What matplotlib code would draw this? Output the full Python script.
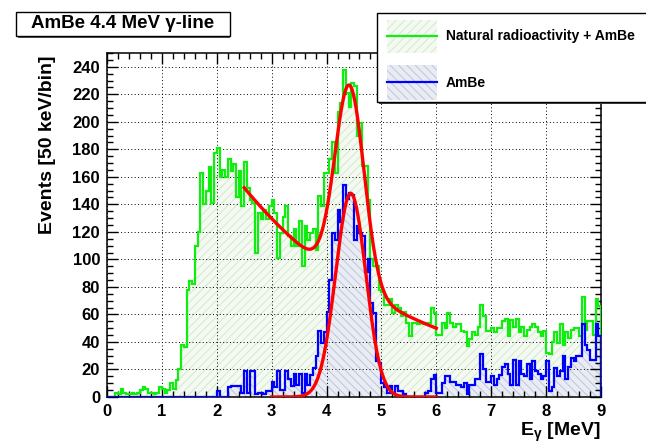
import numpy as np
import matplotlib.pyplot as plt
from matplotlib.patches import Rectangle
from matplotlib.lines import Line2D
from matplotlib.ticker import MultipleLocator

plt.rcParams['font.family'] = ['Liberation Sans', 'DejaVu Sans']
plt.rcParams['font.weight'] = 'bold'
plt.rcParams['hatch.linewidth'] = 0.7
plt.rcParams['mathtext.default'] = 'regular'

# 50 keV bins from 0 to 9 MeV
e_min, e_max = 0.0, 9.0

natural = [
    0, 0, 0, 3, 2, 6, 3, 2, 2, 3,
    2, 3, 5, 7, 6, 3, 3, 2, 3, 7,
    6, 3, 5, 10, 6, 12, 20, 38, 36, 78,
    84, 82, 110, 120, 163, 140, 150, 167, 141, 177,
    181, 160, 165, 160, 173, 164, 169, 145, 164, 139,
    171, 152, 143, 141, 105, 134, 129, 136, 129, 139,
    143, 134, 101, 119, 131, 139, 117, 110, 122, 110,
    128, 95, 124, 114, 119, 122, 107, 146, 139, 163,
    163, 173, 185, 163, 207, 214, 238, 221, 211, 228,
    226, 190, 199, 168, 168, 143, 100, 95, 95, 78,
    76, 67, 67, 71, 61, 67, 65, 59, 62, 54,
    44, 54, 54, 53, 54, 53, 54, 54, 65, 61,
    45, 45, 54, 50, 61, 54, 51, 53, 53, 48,
    47, 37, 42, 47, 45, 51, 67, 59, 48, 48,
    50, 47, 50, 50, 55, 57, 44, 56, 51, 57,
    47, 51, 44, 49, 51, 53, 51, 47, 44, 48,
    32, 31, 40, 47, 39, 53, 38, 47, 43, 49,
    50, 50, 44, 73, 49, 55, 55, 45, 71, 66,
]

ambe = [0] * 40 + [
    4, 0, 0, 0, 7, 8, 8, 8, 8, 3,
    19, 3, 19, 19, 2, 3, 3, 2, 4, 4,
    11, 7, 19, 5, 5, 19, 13, 8, 17, 9,
    17, 3, 17, 9, 16, 21, 30, 48, 39, 47,
    62, 85, 119, 114, 136, 127, 154, 144, 148, 147,
    114, 124, 119, 117, 91, 100, 68, 61, 26, 25,
    10, 7, 3, 8, 3, 8, 4, 4, 2, 0,
    0, 0, 0, 0, 0, 0, 3, 4, 13, 16,
    3, 3, 10, 15, 15, 11, 11, 9, 9, 7,
    10, 2, 9, 9, 13, 13, 31, 20, 11, 11,
    15, 9, 13, 16, 22, 24, 17, 9, 27, 9,
    26, 17, 15, 24, 13, 26, 19, 17, 13, 15,
    26, 4, 7, 21, 15, 19, 30, 13, 22, 28,
    26, 30, 30, 53, 38, 34, 27, 27, 53, 44,
]

# fit results: gaus + expo for natural+AmBe, gaus for AmBe
nat_fit_range = (2.5, 6.0)
nat_gaus = (144.0, 4.42, 0.265)
nat_expo = (336.7, 0.318)
ambe_fit_range = (3.0, 6.0)
ambe_gaus = (148.0, 4.44, 0.275)

W, H = 646, 445

nat_face, nat_hatch, nat_line = '#f4faf2', '#d2eacd', '#10ee10'
ambe_face, ambe_hatch, ambe_line = '#e9ecf3', '#bdc5db', '#0000ff'


def fx(px):
    return px / W


def fy(py):
    return 1 - py / H


def gaus(x, p):
    return p[0] * np.exp(-0.5 * ((x - p[1]) / p[2]) ** 2)


fig = plt.figure(figsize=(W / 100, H / 100), dpi=100)
ax = fig.add_axes([fx(107), fy(397), fx(601) - fx(107), fy(53) - fy(397)])

edges = np.linspace(e_min, e_max, len(natural) + 1)

ax.stairs(natural, edges, fill=True, facecolor=nat_face, edgecolor=nat_hatch,
          hatch='////', linewidth=0, zorder=1)
ax.stairs(ambe, edges, fill=True, facecolor=ambe_face,
          edgecolor=ambe_hatch, hatch='\\\\\\\\', linewidth=0, zorder=1.5)
ax.stairs(natural, edges, color=nat_line, lw=1.6, zorder=4)
ax.stairs(ambe, edges, color=ambe_line, lw=1.6, zorder=5)

x1 = np.linspace(*nat_fit_range, 300)
y1 = gaus(x1, nat_gaus) + nat_expo[0] * np.exp(-nat_expo[1] * x1)
ax.plot(x1, y1, color='#ff0000', lw=2.4, zorder=6)
x2 = np.linspace(*ambe_fit_range, 300)
ax.plot(x2, gaus(x2, ambe_gaus), color='#ff0000', lw=2.4, zorder=6)

ax.set_xlim(e_min, e_max)
ax.set_ylim(0, 250)
ax.xaxis.set_major_locator(MultipleLocator(1))
ax.xaxis.set_minor_locator(MultipleLocator(0.2))
ax.yaxis.set_major_locator(MultipleLocator(20))
ax.yaxis.set_minor_locator(MultipleLocator(5))
ax.set_axisbelow(False)
ax.grid(True, which='major', color='black', linestyle=(0, (1, 2.5)), linewidth=0.7)
ax.tick_params(which='both', direction='in', top=True, right=True, labelsize=12, width=1.0)
ax.tick_params(which='major', length=8, pad=5)
ax.tick_params(which='minor', length=4)
for s in ax.spines.values():
    s.set_linewidth(1.1)

fig.text(fx(48), fy(56), 'Events [50 keV/bin]', rotation=90, ha='center', va='top', fontsize=14)
fig.text(fx(601), fy(432), r'E$_{\gamma}$ [MeV]', ha='right', va='center', fontsize=14)

# title box with shadow
fig.add_artist(Rectangle((fx(18), fy(38)), fx(230) - fx(18), fy(14) - fy(38),
                         transform=fig.transFigure, facecolor='#555555', edgecolor='none'))
fig.add_artist(Rectangle((fx(16), fy(36)), fx(230) - fx(16), fy(12) - fy(36),
                         transform=fig.transFigure, facecolor='white', edgecolor='black', lw=1))
fig.text(fx(123), fy(24), 'AmBe 4.4 MeV γ-line', ha='center', va='center', fontsize=13.5)

# legend with shadow
fig.add_artist(Rectangle((fx(379), fy(104)), fx(650) - fx(379), fy(15) - fy(104),
                         transform=fig.transFigure, facecolor='#444444', edgecolor='none'))
fig.add_artist(Rectangle((fx(377), fy(102)), fx(648) - fx(377), fy(13) - fy(102),
                         transform=fig.transFigure, facecolor='white', edgecolor='black', lw=1))
fig.add_artist(Rectangle((fx(387), fy(53)), fx(437) - fx(387), fy(20) - fy(53),
                         transform=fig.transFigure, facecolor=nat_face, edgecolor=nat_hatch,
                         hatch='////', lw=0))
fig.add_artist(Rectangle((fx(387), fy(100)), fx(437) - fx(387), fy(65) - fy(100),
                         transform=fig.transFigure, facecolor=ambe_face, edgecolor=ambe_hatch,
                         hatch='\\\\\\\\', lw=0))
fig.add_artist(Line2D([fx(387), fx(437)], [fy(36), fy(36)], transform=fig.transFigure,
                      color=nat_line, lw=1.6))
fig.add_artist(Line2D([fx(387), fx(437)], [fy(82), fy(82)], transform=fig.transFigure,
                      color=ambe_line, lw=1.6))
fig.text(fx(446), fy(36), 'Natural radioactivity + AmBe', ha='left', va='center', fontsize=10)
fig.text(fx(446), fy(83), 'AmBe', ha='left', va='center', fontsize=10)

fig.savefig('out.png', dpi=100)
